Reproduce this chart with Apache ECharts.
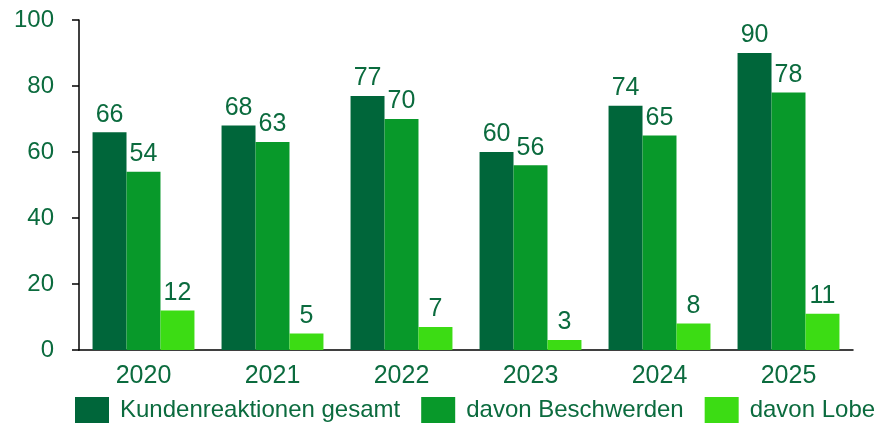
<!DOCTYPE html>
<html>
<head>
<meta charset="utf-8">
<script src="https://cdn.jsdelivr.net/npm/echarts@6/dist/echarts.min.js"></script>
<style>
  html, body { margin: 0; padding: 0; background: #fff; }
  #chart { width: 877px; height: 424px; }
</style>
</head>
<body>
<div id="chart"></div>
<script>
const years = ['2020', '2021', '2022', '2023', '2024', '2025'];
const gesamt = [66, 68, 77, 60, 74, 90];
const beschwerden = [54, 63, 70, 56, 65, 78];
const lobe = [12, 5, 7, 3, 8, 11];
const seriesNames = ['Kundenreaktionen gesamt', 'davon Beschwerden', 'davon Lobe'];
const colors = ['#00663a', '#08992a', '#3cdc14'];

const textColor = '#0b6b3e';
const labelFont = 'Liberation Sans, Arial, sans-serif';

const chart = echarts.init(document.getElementById('chart'));

function barSeries(name, data, color) {
  return {
    name: name,
    type: 'bar',
    data: data,
    barGap: '0%',
    barCategoryGap: '21%',
    itemStyle: { color: color },
    label: {
      show: true,
      position: 'top',
      distance: 5,
      color: textColor,
      fontSize: 25,
      fontFamily: labelFont
    }
  };
}

chart.setOption({
  animation: false,
  color: colors,
  grid: { left: 79, right: 24, top: 20, bottom: 74 },
  legend: {
    top: 397,
    left: 75,
    padding: 0,
    itemWidth: 34,
    itemHeight: 26,
    itemGap: 21,
    icon: 'rect',
    textStyle: {
      color: textColor,
      fontSize: 24,
      fontFamily: labelFont,
      padding: [0, 0, 0, 6]
    },
    data: seriesNames
  },
  xAxis: {
    type: 'category',
    data: years,
    axisLine: { lineStyle: { color: '#000', width: 1.5 } },
    axisTick: { show: false },
    axisLabel: { color: textColor, fontSize: 25, fontFamily: labelFont, margin: 14 }
  },
  yAxis: {
    type: 'value',
    min: 0,
    max: 100,
    interval: 20,
    axisLine: { show: true, lineStyle: { color: '#000', width: 1.5 } },
    axisTick: { show: true, length: 7, lineStyle: { color: '#000', width: 1.5 } },
    splitLine: { show: false },
    axisLabel: { color: textColor, fontSize: 24, fontFamily: labelFont, margin: 25 }
  },
  series: [
    barSeries(seriesNames[0], gesamt, colors[0]),
    barSeries(seriesNames[1], beschwerden, colors[1]),
    barSeries(seriesNames[2], lobe, colors[2])
  ]
});

window.addEventListener('resize', function () {
  chart.resize();
});
</script>
</body>
</html>
